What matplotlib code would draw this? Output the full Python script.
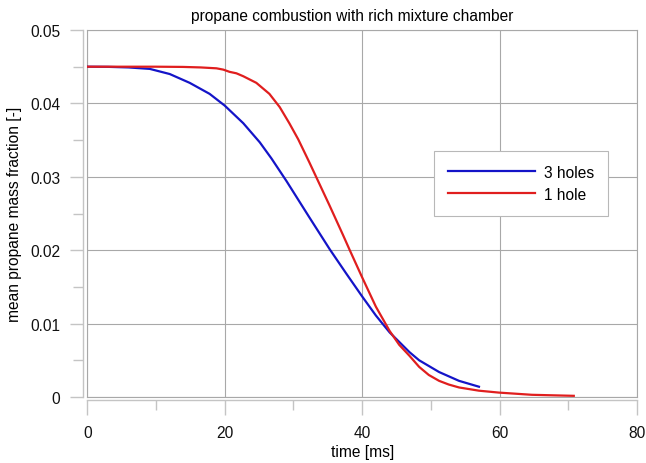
"""
Mean propane mass fraction vs time, 3 holes vs 1 hole
"""

import numpy as np
import matplotlib
matplotlib.use('Agg')
import matplotlib.pyplot as plt
from matplotlib.ticker import MultipleLocator, FuncFormatter

plt.rcParams['font.family'] = ['Liberation Sans', 'DejaVu Sans']

# values
t_3holes = [0, 3, 6, 9.1, 12.0, 14.9, 17.8, 20, 22.7, 25.1, 26.8, 29.0, 32.3, 35.3,
            37.7, 40, 42, 44, 45.4, 46.9, 48.3, 51.2, 54.1, 57.0]
y_3holes = [0.0450, 0.04498, 0.0449, 0.0447, 0.0440, 0.0428, 0.0413, 0.0397, 0.0373,
            0.0347, 0.0325, 0.0294, 0.0245, 0.0201, 0.0168, 0.0137, 0.0111, 0.0088,
            0.0075, 0.0061, 0.0050, 0.0034, 0.0022, 0.0014]

t_1hole = [0, 5, 10, 13.9, 16.5, 18.8, 19.8, 20.7, 21.7, 22.7, 24.6, 26.5, 28.0, 29.4,
           30.7, 32.3, 33.3, 35.25, 37.2, 38.2, 40, 42, 44, 45.4, 46.9, 48.3, 49.7,
           51.2, 52.6, 54.1, 57.0, 59.9, 64.7, 70.8]
y_1hole = [0.0450, 0.0450, 0.0450, 0.04497, 0.0449, 0.04478, 0.0446, 0.0443, 0.0441,
           0.0437, 0.0428, 0.0413, 0.0395, 0.0373, 0.0351, 0.0320, 0.0300, 0.0261,
           0.0221, 0.0200, 0.0163, 0.0123, 0.0090, 0.0071, 0.0056, 0.0041, 0.0030,
           0.0022, 0.0017, 0.0013, 0.00086, 0.0006, 0.0003, 0.00016]

GRID = '#a8a8a8'
SPINE = '#c4c4c4'
FS = 11.2

fig = plt.figure(figsize=(6.46, 4.64), dpi=100)
ax = fig.add_axes([87.3 / 646, 66 / 464, (637 - 87.3) / 646, (398 - 31) / 464])

ax.plot(t_3holes, y_3holes, color='#1414c8', linewidth=1.6, label='3 holes')
ax.plot(t_1hole, y_1hole, color='#e01e1e', linewidth=1.6, label='1 hole')

ax.set_xlim(0, 80)
ax.set_ylim(0, 0.05)
ax.xaxis.set_major_locator(MultipleLocator(20))
ax.xaxis.set_minor_locator(MultipleLocator(10))
ax.yaxis.set_major_locator(MultipleLocator(0.01))
ax.yaxis.set_minor_locator(MultipleLocator(0.005))
ax.yaxis.set_major_formatter(FuncFormatter(lambda v, p: '0' if abs(v) < 1e-12 else f'{v:g}'))

# grid + frame
ax.grid(True, which='major', color=GRID, linewidth=0.8)
ax.axhline(0, color=GRID, linewidth=0.8, clip_on=False, zorder=0.5)
ax.axvline(0, color=GRID, linewidth=0.8, clip_on=False, zorder=0.5)
for side in ['top', 'right']:
    ax.spines[side].set_color(GRID)
    ax.spines[side].set_linewidth(0.8)

# detached axis lines
ax.spines['left'].set_position(('outward', 3.3))
ax.spines['bottom'].set_position(('outward', 2.2))
for side in ['left', 'bottom']:
    ax.spines[side].set_color(SPINE)
    ax.spines[side].set_linewidth(1.0)

ax.tick_params(axis='both', which='both', color=SPINE, width=1.0, labelsize=FS,
               labelcolor='#111111')
ax.tick_params(axis='y', which='major', length=9.5, pad=6.5)
ax.tick_params(axis='y', which='minor', length=7)
ax.tick_params(axis='x', which='major', length=10.5, pad=7.5)
ax.tick_params(axis='x', which='minor', length=7.5)

ax.set_xlabel('time [ms]', fontsize=FS, labelpad=3)
ax.set_ylabel('mean propane mass fraction [-]', fontsize=FS, labelpad=6)
fig.text(352 / 646, 1 - 16 / 464, 'propane combustion with rich mixture chamber',
         ha='center', va='center', fontsize=FS)

leg = ax.legend(loc='upper left', bbox_to_anchor=(0.631, 0.671), fontsize=FS,
                handlelength=5.6, fancybox=False, framealpha=1, borderpad=0.9,
                labelspacing=0.45, handletextpad=0.55, borderaxespad=0)
leg.get_frame().set_edgecolor('#b8b8b8')
leg.get_frame().set_linewidth(0.8)

plt.savefig('out.png', dpi=100, facecolor='white')
